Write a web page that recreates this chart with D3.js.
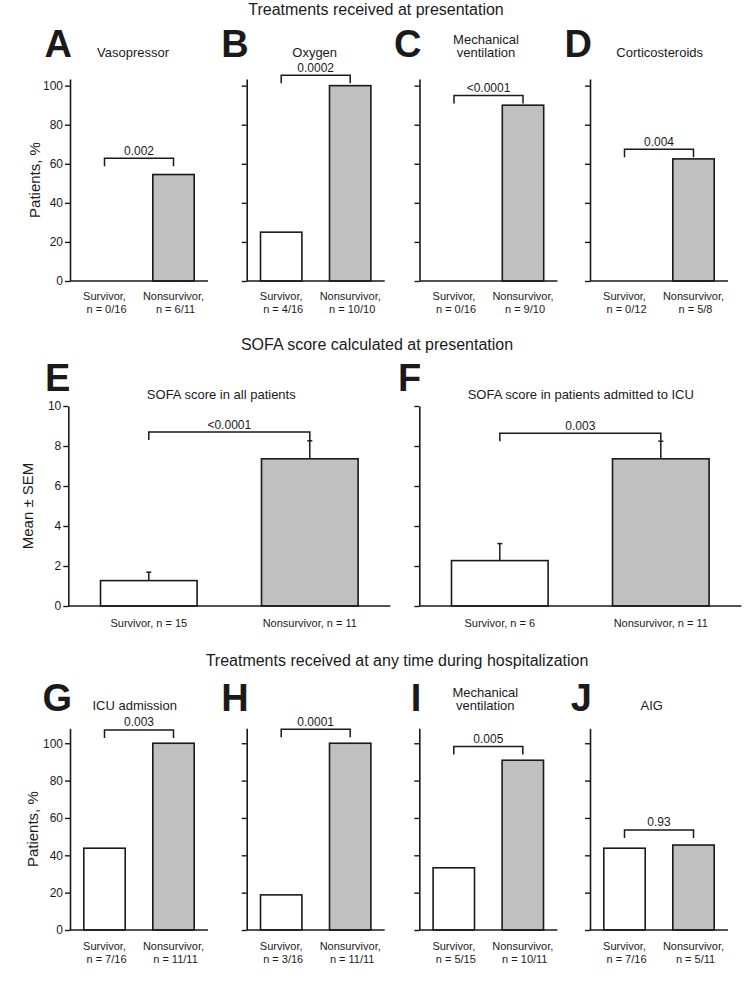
<!DOCTYPE html>
<html>
<head>
<meta charset="utf-8">
<script src="https://cdn.jsdelivr.net/npm/d3@7"></script>
<style>
  body { margin: 0; background: #fff; }
  svg text { font-family: "Liberation Sans", Arial, Helvetica, sans-serif; fill: #1a1a1a; }
</style>
</head>
<body>
<script>
var groups = ["Survivor", "Nonsurvivor"];

// Treatments received at presentation
var presLetters = ["A", "B", "C", "D"];
var presTitles = [["Vasopressor"], ["Oxygen"], ["Mechanical", "ventilation"], ["Corticosteroids"]];
var presSurvivor = [0, 25, 0, 0];
var presNonsurvivor = [54.5, 100, 90, 62.5];
var presSurvivorN = ["n = 0/16", "n = 4/16", "n = 0/16", "n = 0/12"];
var presNonsurvivorN = ["n = 6/11", "n = 10/10", "n = 9/10", "n = 5/8"];
var presP = ["0.002", "0.0002", "<0.0001", "0.004"];
var presBracket = [62.8, 105.3, 94.9, 67.4];
var pctTicks = [0, 20, 40, 60, 80, 100];

// SOFA score calculated at presentation
var sofaLetters = ["E", "F"];
var sofaTitles = [["SOFA score in all patients"], ["SOFA score in patients admitted to ICU"]];
var sofaMeanAll = [1.27, 7.36];
var sofaSemAll = [0.42, 0.9];
var sofaMeanIcu = [2.27, 7.36];
var sofaSemIcu = [0.85, 0.88];
var sofaNAll = ["n = 15", "n = 11"];
var sofaNIcu = ["n = 6", "n = 11"];
var sofaP = ["<0.0001", "0.003"];
var sofaBracket = [8.7, 8.64];
var sofaTicks = [0, 2, 4, 6, 8, 10];

// Treatments received at any time during hospitalization
var hospLetters = ["G", "H", "I", "J"];
var hospTitles = [["ICU admission"], [], ["Mechanical", "ventilation"], ["AIG"]];
var hospSurvivor = [43.8, 18.8, 33.3, 43.8];
var hospNonsurvivor = [100, 100, 90.9, 45.5];
var hospSurvivorN = ["n = 7/16", "n = 3/16", "n = 5/15", "n = 7/16"];
var hospNonsurvivorN = ["n = 11/11", "n = 11/11", "n = 10/11", "n = 5/11"];
var hospP = ["0.003", "0.0001", "0.005", "0.93"];
var hospBracket = [107.1, 107.5, 98.2, 53.6];

var sectionTitles = ["Treatments received at presentation",
                     "SOFA score calculated at presentation",
                     "Treatments received at any time during hospitalization"];

var INK = "#1a1a1a";
var GREY = "#c0c0c0";

var svg = d3.select("body").append("svg")
	.attr("width", 750)
	.attr("height", 990);

// section titles
var titleX = [376, 377, 397];
var titleY = [15, 350, 666];
svg.selectAll("text.section")
	.data(sectionTitles)
	.enter()
	.append("text")
	.attr("class", "section")
	.attr("x", function (d, i){ return titleX[i]; })
	.attr("y", function (d, i){ return titleY[i]; })
	.attr("text-anchor", "middle")
	.attr("font-size", "16px")
	.text(function (d){ return d; });

function drawPanel(p){
	var g = svg.append("g");

	var y = d3.scaleLinear().domain([0, p.yMax]).range([p.y0, p.yTop]);
	var x = d3.scaleBand().domain(groups)
		.range([p.ax, p.ax + p.len])
		.paddingInner(0.4)
		.paddingOuter(0.2);

	// bars
	var bars = groups.map(function (k, i){
		return {key: k, v: p.values[i], err: p.errors ? p.errors[i] : null};
	});
	g.selectAll("rect.bar")
		.data(bars.filter(function (d){ return d.v > 0; }))
		.enter()
		.append("rect")
		.attr("class", "bar")
		.attr("x", function (d){ return x(d.key); })
		.attr("width", x.bandwidth())
		.attr("y", function (d){ return y(d.v); })
		.attr("height", function (d){ return y(0) - y(d.v); })
		.attr("fill", function (d, i){ return d.key == "Survivor" ? "#fff" : GREY; })
		.attr("stroke", INK)
		.attr("stroke-width", 1.6);

	// error bars (upper only)
	if (p.errors){
		var eb = g.selectAll("g.err").data(bars).enter().append("g").attr("class", "err");
		eb.append("line")
			.attr("x1", function (d){ return x(d.key) + x.bandwidth() / 2; })
			.attr("x2", function (d){ return x(d.key) + x.bandwidth() / 2; })
			.attr("y1", function (d){ return y(d.v); })
			.attr("y2", function (d){ return y(d.v + d.err); })
			.attr("stroke", INK).attr("stroke-width", 1.5);
		eb.append("line")
			.attr("x1", function (d){ return x(d.key) + x.bandwidth() / 2 - 2.5; })
			.attr("x2", function (d){ return x(d.key) + x.bandwidth() / 2 + 2.5; })
			.attr("y1", function (d){ return y(d.v + d.err); })
			.attr("y2", function (d){ return y(d.v + d.err); })
			.attr("stroke", INK).attr("stroke-width", 1.5);
	}

	// y axis
	var yAxis = d3.axisLeft(y)
		.tickValues(p.ticks)
		.tickSize(5)
		.tickSizeOuter(0)
		.tickPadding(2)
		.tickFormat(p.tickLabels ? d3.format("d") : function (){ return ""; });
	var ya = g.append("g")
		.attr("transform", "translate(" + p.ax + ",0)")
		.call(yAxis);
	ya.select(".domain").attr("stroke", INK).attr("stroke-width", 1.6);
	ya.selectAll(".tick line").attr("stroke", INK).attr("stroke-width", 1.4);
	ya.selectAll(".tick text")
		.attr("font-size", "12px")
		.attr("fill", INK)
		.style("font-family", "'Liberation Sans', Arial, sans-serif");

	// x axis (line only)
	var xa = g.append("g")
		.attr("transform", "translate(0," + p.y0 + ")")
		.call(d3.axisBottom(x).tickSize(0).tickSizeOuter(0).tickFormat(function (){ return ""; }));
	xa.select(".domain")
		.attr("d", "M" + p.ax + ",0H" + (p.ax + p.len))
		.attr("stroke", INK).attr("stroke-width", 1.6);

	// category labels
	groups.forEach(function (k, i){
		var t = g.append("text")
			.attr("text-anchor", "middle")
			.attr("font-size", "11px");
		p.xLabels[i].forEach(function (line, j){
			t.append("tspan")
				.attr("x", x(k) + x.bandwidth() / 2 + (j == 1 ? 2 : 0))
				.attr("y", p.xLabelY[j])
				.text(line);
		});
	});

	// panel letter
	g.append("text")
		.attr("x", p.ax + 2)
		.attr("y", p.letterY)
		.attr("text-anchor", "end")
		.attr("font-size", "38px")
		.attr("font-weight", "bold")
		.text(p.letter);

	// panel title
	var tt = g.append("text")
		.attr("text-anchor", "middle")
		.attr("font-size", "13px");
	p.title.forEach(function (line, j){
		tt.append("tspan")
			.attr("x", p.ax + p.titleDx)
			.attr("y", p.titleY - (p.title.length - 1 - j) * 13.5)
			.text(line);
	});

	// significance bracket
	var xl = x(groups[0]) + x.bandwidth() / 2;
	var xr = x(groups[1]) + x.bandwidth() / 2;
	var yb = y(p.bracket);
	g.append("path")
		.attr("d", "M" + xl + "," + (yb + 8) + "V" + yb + "H" + xr + "V" + (yb + 8))
		.attr("fill", "none")
		.attr("stroke", INK)
		.attr("stroke-width", 1.5);
	g.append("text")
		.attr("x", (xl + xr) / 2)
		.attr("y", yb - 3.5)
		.attr("text-anchor", "middle")
		.attr("font-size", "12px")
		.text(p.pText);

	// y axis title
	if (p.yLabel){
		g.append("text")
			.attr("transform", "translate(" + p.yLabelX + "," + ((p.y0 + p.yTop) / 2) + ") rotate(-90)")
			.attr("text-anchor", "middle")
			.attr("font-size", "15px")
			.text(p.yLabel);
	}
}

// row 1
var rowAx = [70, 246.7, 419.5, 590];
var presTitleDx = [63, 68, 66.5, 69.7];
presLetters.forEach(function (l, i){
	drawPanel({
		ax: rowAx[i], len: 138, y0: 281, yTop: 79, yMax: 103.4,
		ticks: pctTicks, tickLabels: i == 0,
		values: [presSurvivor[i], presNonsurvivor[i]],
		xLabels: [["Survivor,", presSurvivorN[i]], ["Nonsurvivor,", presNonsurvivorN[i]]],
		xLabelY: [300, 313],
		letter: l, letterY: 57,
		title: presTitles[i], titleY: 57, titleDx: presTitleDx[i],
		pText: presP[i], bracket: presBracket[i],
		yLabel: i == 0 ? "Patients, %" : null, yLabelX: 39.5
	});
});

// row 2
var sofaAx = [68.3, 419.3];
var sofaTitleDx = [153, 161.5];
var sofaMeans = [sofaMeanAll, sofaMeanIcu];
var sofaSems = [sofaSemAll, sofaSemIcu];
var sofaNs = [sofaNAll, sofaNIcu];
sofaLetters.forEach(function (l, i){
	drawPanel({
		ax: sofaAx[i], len: 322, y0: 606, yTop: 406, yMax: 10,
		ticks: sofaTicks, tickLabels: i == 0,
		values: sofaMeans[i], errors: sofaSems[i],
		xLabels: [["Survivor, " + sofaNs[i][0]], ["Nonsurvivor, " + sofaNs[i][1]]],
		xLabelY: [627],
		letter: l, letterY: 391,
		title: sofaTitles[i], titleY: 399, titleDx: sofaTitleDx[i],
		pText: sofaP[i], bracket: sofaBracket[i],
		yLabel: i == 0 ? "Mean \u00B1 SEM" : null, yLabelX: 33
	});
});

// row 3
var hospTitleDx = [64.7, 66, 66, 61.7];
hospLetters.forEach(function (l, i){
	drawPanel({
		ax: rowAx[i] - (i == 2 ? 0.2 : 0), len: 138, y0: 930, yTop: 728.3, yMax: 108,
		ticks: pctTicks, tickLabels: i == 0,
		values: [hospSurvivor[i], hospNonsurvivor[i]],
		xLabels: [["Survivor,", hospSurvivorN[i]], ["Nonsurvivor,", hospNonsurvivorN[i]]],
		xLabelY: [950, 963],
		letter: l, letterY: 711,
		title: hospTitles[i], titleY: 710, titleDx: hospTitleDx[i],
		pText: hospP[i], bracket: hospBracket[i],
		yLabel: i == 0 ? "Patients, %" : null, yLabelX: 37.5
	});
});
</script>
</body>
</html>
